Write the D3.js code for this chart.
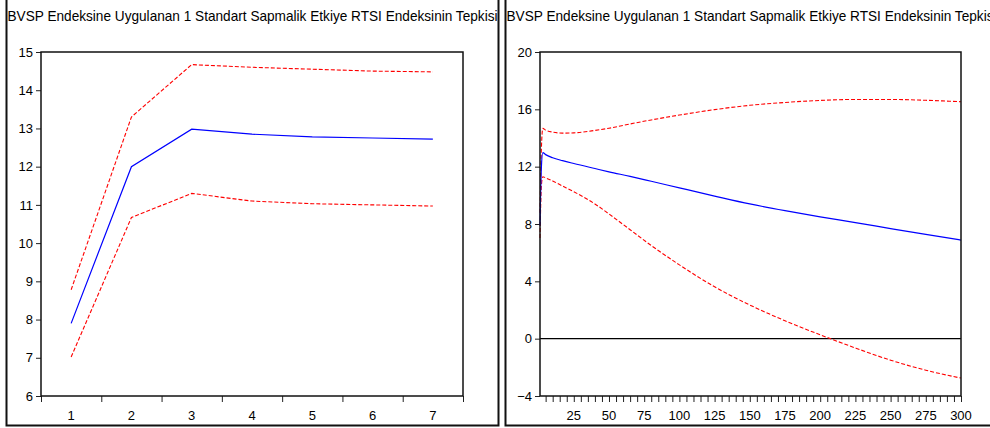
<!DOCTYPE html>
<html>
<head>
<meta charset="utf-8">
<script src="https://cdn.jsdelivr.net/npm/d3@7"></script>
<style>
  body { margin: 0; background: #fff; }
  svg { display: block; }
  text { font-family: "Liberation Sans", Arial, sans-serif; }
</style>
</head>
<body>
<div id="chart"></div>
<script>
// title shared by both panels
const titleText = "BVSP Endeksine Uygulanan 1 Standart Sapmalik Etkiye RTSI Endeksinin Tepkisi";

// short horizon (periods 1-7)
const shortPeriods = [1, 2, 3, 4, 5, 6, 7];
const shortResponse = [7.9, 12.0, 12.98, 12.85, 12.78, 12.75, 12.72];
const shortUpper = [8.78, 13.3, 14.67, 14.6, 14.55, 14.5, 14.48];
const shortLower = [7.02, 10.67, 11.3, 11.1, 11.03, 11.0, 10.97];
const shortYTicks = [6, 7, 8, 9, 10, 11, 12, 13, 14, 15];

// long horizon (periods 1-300), values read at these periods
const longPeriods = [1, 2, 3, 5, 10, 17, 25, 40, 50, 65, 80, 100, 125, 150, 175, 200, 225, 250, 275, 300];
const longResponse = [7.9, 12.0, 12.98, 12.84, 12.62, 12.42, 12.22, 11.87, 11.64, 11.32, 10.98, 10.52, 9.95, 9.4, 8.93, 8.5, 8.1, 7.68, 7.27, 6.88];
const longUpper = [8.78, 13.3, 14.67, 14.55, 14.41, 14.34, 14.36, 14.53, 14.68, 14.98, 15.26, 15.6, 15.98, 16.28, 16.48, 16.62, 16.69, 16.69, 16.63, 16.53];
const longLower = [7.02, 10.67, 11.3, 11.22, 11.0, 10.65, 10.25, 9.4, 8.7, 7.6, 6.5, 5.15, 3.62, 2.35, 1.25, 0.27, -0.65, -1.5, -2.2, -2.75];
const longYTicks = [-4, 0, 4, 8, 12, 16, 20];
const longXLabels = [25, 50, 75, 100, 125, 150, 175, 200, 225, 250, 275, 300];

const svg = d3.select("#chart").append("svg")
    .attr("width", 990)
    .attr("height", 428);

svg.append("rect").attr("width", 990).attr("height", 428).attr("fill", "#fff");

function drawPanel(cfg) {
    let g = svg.append("g")

    // clip so the title gets cut at the panel edge
    let clipId = "clip" + cfg.id;
    svg.append("clipPath").attr("id", clipId)
        .append("rect")
        .attr("x", cfg.frame[0]).attr("y", 0)
        .attr("width", cfg.frame[1] - cfg.frame[0]).attr("height", 428);

    g.append("text")
        .attr("clip-path", `url(#${clipId})`)
        .attr("x", cfg.frame[0] + 1)
        .attr("y", 21)
        .attr("font-size", 15)
        .attr("textLength", 490)
        .attr("lengthAdjust", "spacingAndGlyphs")
        .attr("fill", "#000")
        .text(titleText);

    // panel frame (no top edge)
    g.append("path")
        .attr("d", `M${cfg.frame[0]},0 V425.5 H${cfg.frame[1]} V0`)
        .attr("fill", "none")
        .attr("stroke", "#111")
        .attr("stroke-width", 2);

    let x = cfg.x, y = cfg.y;
    let [x0, x1] = x.range();
    let [y0, y1] = y.range();

    // y axis
    g.append("g")
        .attr("transform", `translate(${x0},0)`)
        .call(d3.axisLeft(y).tickValues(cfg.yTicks).tickSize(5).tickPadding(3).tickFormat(d3.format("d")))
        .call(a => a.select(".domain").remove())
        .call(a => a.selectAll("text").attr("font-size", 13).attr("fill", "#000"))
        .call(a => a.selectAll("line").attr("stroke", "#222"));

    // x axis ticks
    g.append("g")
        .attr("transform", `translate(0,${y0})`)
        .call(d3.axisBottom(x).tickValues(cfg.xTicks).tickSize(6).tickFormat(""))
        .call(a => a.select(".domain").remove())
        .call(a => a.selectAll("line").attr("stroke", "#222"));

    // x labels
    g.selectAll(".xlab")
        .data(cfg.xLabels)
        .enter()
        .append("text")
        .attr("class", "xlab")
        .attr("x", d => x(d))
        .attr("y", 420)
        .attr("text-anchor", "middle")
        .attr("font-size", 13)
        .attr("fill", "#000")
        .text(d => d);

    if (cfg.zero) {
        g.append("line")
            .attr("x1", x0).attr("x2", x1)
            .attr("y1", y(0)).attr("y2", y(0))
            .attr("stroke", "#000").attr("stroke-width", 1.2);
    }

    let line = d3.line()
        .x((d, i) => x(cfg.periods[i]))
        .y(d => y(d))
        .curve(cfg.curve);

    g.append("path").datum(cfg.upper)
        .attr("d", line).attr("fill", "none")
        .attr("stroke", "#ff0000").attr("stroke-width", 1.1)
        .attr("stroke-dasharray", "4,2");
    g.append("path").datum(cfg.lower)
        .attr("d", line).attr("fill", "none")
        .attr("stroke", "#ff0000").attr("stroke-width", 1.1)
        .attr("stroke-dasharray", "4,2");
    g.append("path").datum(cfg.response)
        .attr("d", line).attr("fill", "none")
        .attr("stroke", "#0000ff").attr("stroke-width", 1.2);

    // plot box
    g.append("rect")
        .attr("x", x0).attr("y", y1)
        .attr("width", x1 - x0).attr("height", y0 - y1)
        .attr("fill", "none")
        .attr("stroke", "#111")
        .attr("stroke-width", 1.5);
}

drawPanel({
    id: "a",
    frame: [6.5, 498.5],
    x: d3.scaleLinear().domain([0.5, 7.5]).range([41, 463]),
    y: d3.scaleLinear().domain([6, 15]).range([396, 52]),
    yTicks: shortYTicks,
    xTicks: d3.range(0.5, 8, 1),
    xLabels: shortPeriods,
    periods: shortPeriods,
    response: shortResponse,
    upper: shortUpper,
    lower: shortLower,
    curve: d3.curveLinear,
    zero: false
});

drawPanel({
    id: "b",
    frame: [505.5, 996],
    x: d3.scaleLinear().domain([1, 300]).range([540, 961]),
    y: d3.scaleLinear().domain([-4, 20]).range([396, 52]),
    yTicks: longYTicks,
    xTicks: d3.range(5, 301, 5),
    xLabels: longXLabels,
    periods: longPeriods,
    response: longResponse,
    upper: longUpper,
    lower: longLower,
    curve: d3.curveMonotoneX,
    zero: true
});
</script>
</body>
</html>
